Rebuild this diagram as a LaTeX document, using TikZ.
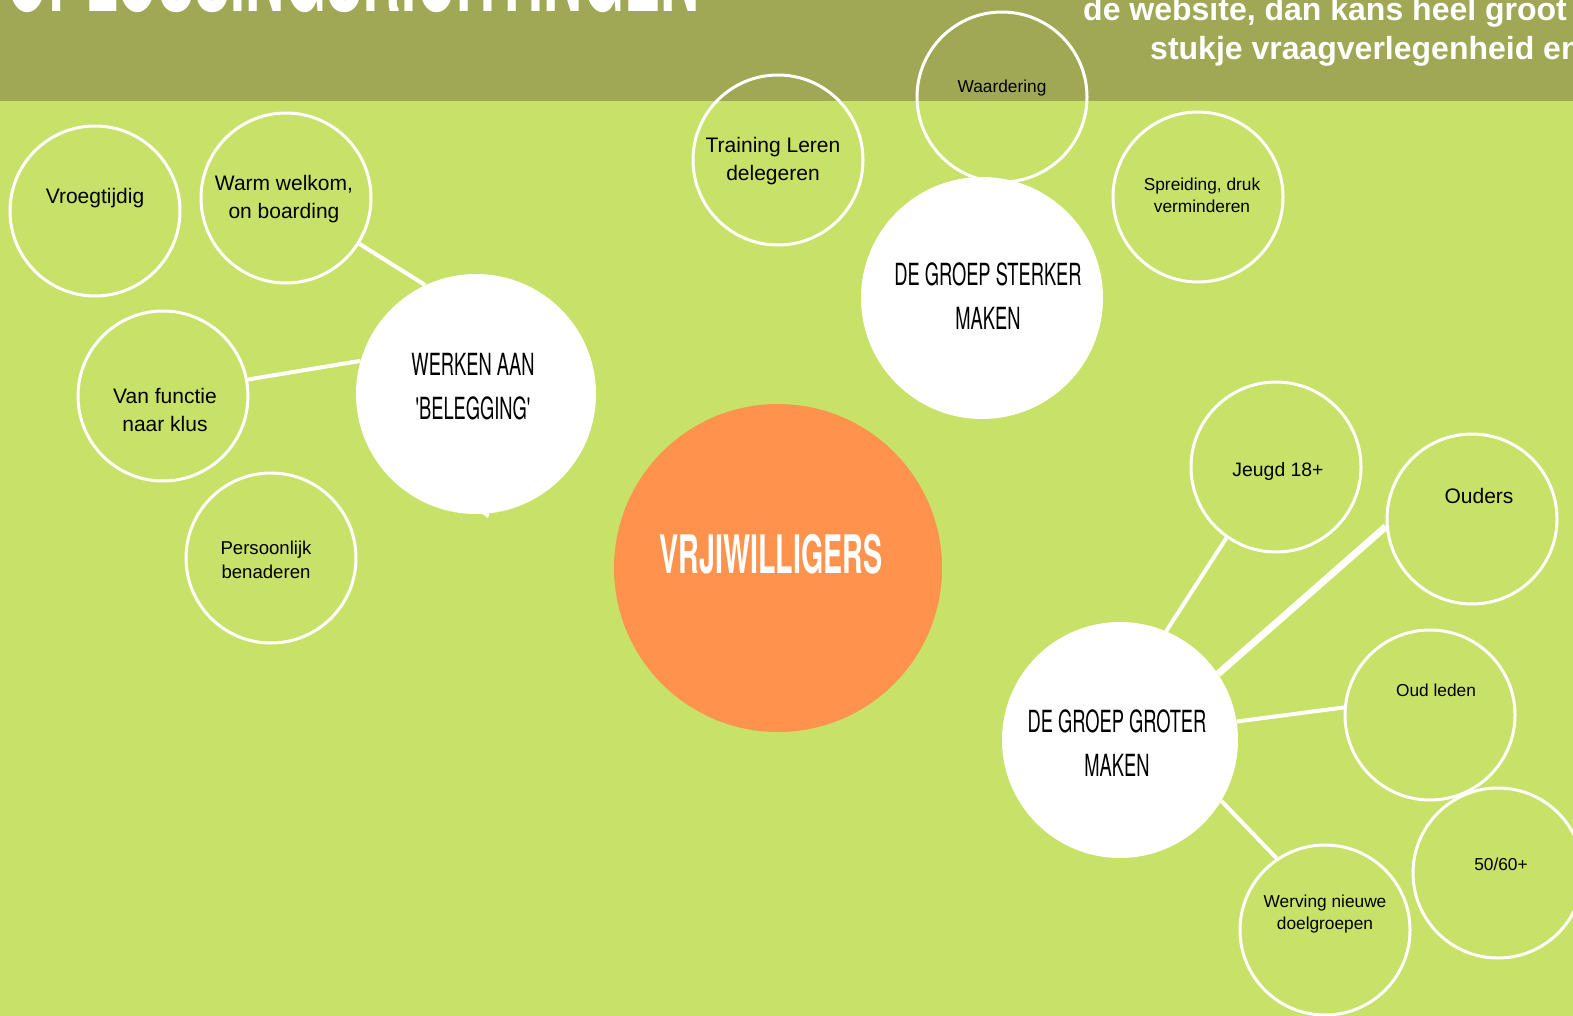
\documentclass[tikz,border=0pt]{standalone}
\usepackage{fontspec}
\setmainfont{Liberation Sans}
\newfontfamily\bebas[FakeStretch=0.6]{TeX Gyre Heros}
\newfontfamily\bebasheavy[FakeStretch=0.54]{TeX Gyre Heros}
\usetikzlibrary{positioning}
\definecolor{bggreen}{HTML}{C8E169}
\definecolor{bandolive}{HTML}{A0A855}
\definecolor{coreorange}{HTML}{FF924D}
\tikzset{%
	bubble/.style={draw=white, line width=3pt, circle, minimum size=170pt, inner sep=0pt},
	hub/.style={fill=white, circle, inner sep=0pt},
	core/.style={fill=coreorange, circle, minimum size=328pt, inner sep=0pt},
	bigtxt/.style={align=center, font=\fontsize{21}{28}\selectfont},
	smalltxt/.style={align=center, font=\fontsize{17.3}{22}\selectfont},
	hubtxt/.style={align=center, font=\bebas\fontsize{30.5}{44}\selectfont},
	link/.style={draw=white, line width=4pt},
	boldlink/.style={draw=white, line width=7pt}
}
\begin{document}
\begin{tikzpicture}[x=1pt,y=-1pt]
	\clip (0,0) rectangle (1573,1016);
	\fill[bggreen] (0,0) rectangle (1573,1016);
	\fill[bandolive] (0,0) rectangle (1573,101);

	% header texts
	\node[anchor=base east, inner sep=0pt, text=white, font=\bebasheavy\bfseries\fontsize{100}{100}\selectfont] (title) at (700,12) {OPLOSSINGSRICHTINGEN};
	\node[anchor=base west, inner sep=0pt, text=white, font=\bfseries\fontsize{32}{40}\selectfont] (intro1) at (1083,21) {de website, dan kans heel groot};
	\node[anchor=base west, inner sep=0pt, text=white, font=\bfseries\fontsize{32}{40}\selectfont] (intro2) at (1150,60) {stukje vraagverlegenheid en};

	% small circles
	\node[bubble] (vroeg) at (95,211) {};
	\node[bubble] (warm) at (286,198) {};
	\node[bubble] (klus) at (163,396) {};
	\node[bubble] (pers) at (271,558) {};
	\node[bubble] (train) at (778,160) {};
	\node[bubble] (waard) at (1002,97) {};
	\node[bubble] (spreid) at (1198,197) {};
	\node[bubble] (jeugd) at (1276,467) {};
	\node[bubble] (ouders) at (1472,519) {};
	\node[bubble] (oud) at (1430,715) {};
	\node[bubble] (fifty) at (1498,873) {};
	\node[bubble] (werving) at (1325,930) {};

	\node[bigtxt] (vroeg-t) at (95,198) {Vroegtijdig};
	\node[bigtxt] (warm-t) at (284,199) {Warm welkom,\\on boarding};
	\node[bigtxt] (klus-t) at (165,410) {Van functie\\naar klus};
	\node[smalltxt, font=\fontsize{18.6}{24}\selectfont] (pers-t) at (266,560) {Persoonlijk\\benaderen};
	\node[bigtxt] (train-t) at (773,161) {Training Leren\\delegeren};
	\node[smalltxt] (waard-t) at (1002,88) {Waardering};
	\node[smalltxt] (spreid-t) at (1202,195) {Spreiding, druk\\verminderen};
	\node[bigtxt, font=\fontsize{19.4}{26}\selectfont] (jeugd-t) at (1278,471) {Jeugd 18+};
	\node[bigtxt] (ouders-t) at (1479,496) {Ouders};
	\node[smalltxt] (oud-t) at (1436,690) {Oud leden};
	\node[smalltxt] (fifty-t) at (1501,864) {50/60+};
	\node[smalltxt] (werving-t) at (1325,914) {Werving nieuwe\\doelgroepen};

	% hubs
	\node[hub, minimum size=240pt] (werken) at (476,394) {};
	\fill[white] (470,505) -- (488,518) -- (492,505) -- cycle;
	\node[hub, minimum size=242pt] (sterker) at (982,298) {};
	\node[hub, minimum size=236pt] (groter) at (1120,740) {};
	\node[core] (vrij) at (778,568) {};

	\node[hubtxt] (werken-t) at (473,387) {WERKEN AAN\\'BELEGGING'};
	\node[hubtxt] (sterker-t) at (988,296) {DE GROEP STERKER\\MAKEN};
	\node[hubtxt] (groter-t) at (1117,743) {DE GROEP GROTER\\MAKEN};
	\node[text=white, font=\bebasheavy\bfseries\fontsize{53}{60}\selectfont] (vrij-t) at (771,554) {VRJIWILLIGERS};

	% connectors
	\draw[link] (warm.-32) -- (werken.115);
	\draw[link] (klus.11) -- (werken.164);
	\draw[link] (jeugd.-125) -- (groter.67);
	\draw[boldlink] (ouders.185) -- (groter.34);
	\draw[link] (oud.175) -- (groter.9);
	\draw[link] (werving.124) -- (groter.-31);
\end{tikzpicture}
\end{document}
